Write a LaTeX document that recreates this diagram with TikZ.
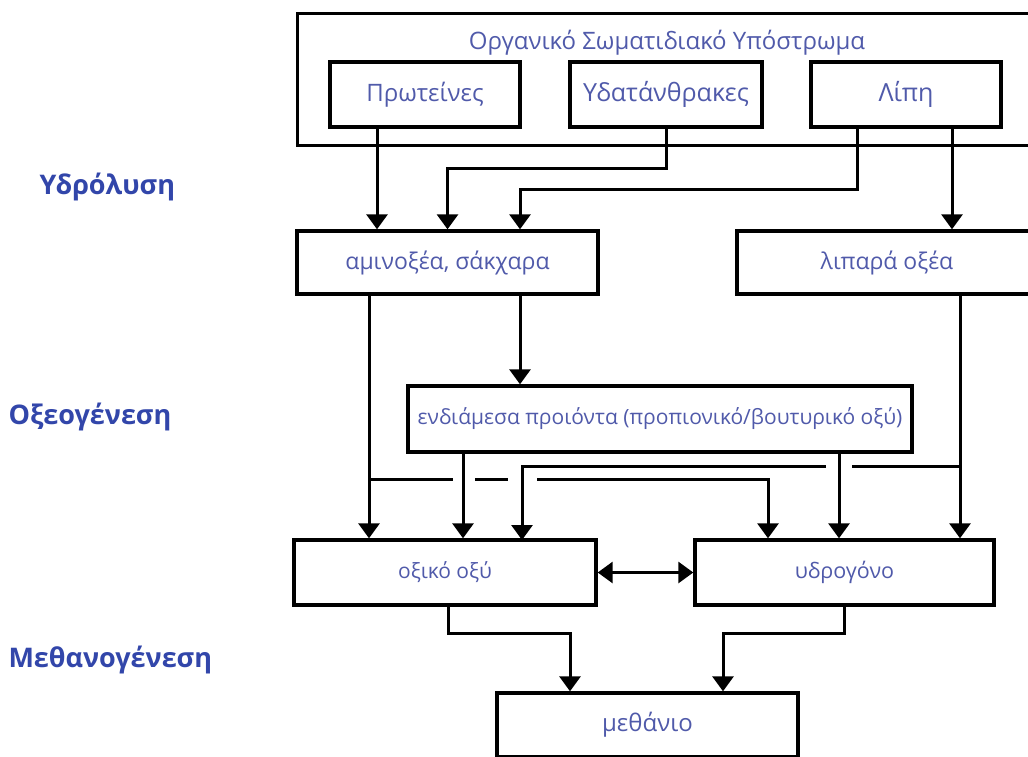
\documentclass[tikz,border=0pt]{standalone}
\usepackage{fontspec}
\setmainfont{Open Sans}
\usetikzlibrary{arrows.meta}
\definecolor{txtblue}{RGB}{80,90,170}
\definecolor{stageblue}{RGB}{50,70,170}

\begin{document}
\begin{tikzpicture}[x=1pt,y=-1pt,
    >={Triangle[width=21pt,length=15pt]},
    box/.style={draw, line width=3.4pt, inner sep=0pt, text=txtblue,
      font=\fontsize{#1}{#1}\selectfont},
    box/.default=23,
    stage/.style={anchor=west, text=stageblue,
      font=\fontsize{27}{30}\selectfont\bfseries},
    link/.style={line width=3pt},
    arr/.style={link, ->}]
    \useasboundingbox (0,0) rectangle (1028,756);
    \clip (0,0) rectangle (1028,756);

    % stages on the left
    \node[stage] (hydro) at (36,187) {Υδρόλυση};
    \node[stage] (acido) at (5,417) {Οξεογένεση};
    \node[stage] (methano) at (5,660) {Μεθανογένεση};

    % substrate
    \node[box, minimum width=760, minimum height=132, anchor=north west] (substrate) at (296,12) {};
    \node[text=txtblue, font=\fontsize{24}{24}\selectfont] (title) at (667,43) {Οργανικό Σωματιδιακό Υπόστρωμα};
    \node[box=24, minimum width=190, minimum height=65] (prot) at (425,94.5) {Πρωτείνες};
    \node[box=25, minimum width=192, minimum height=65] (ydat) at (666,94.5) {Υδατάνθρακες};
    \node[box=25, minimum width=190, minimum height=65] (lipi) at (906,94.5) {Λίπη};

    \node[box, minimum width=301, minimum height=63] (amino) at (447.5,262.5) {αμινοξέα, σάκχαρα};
    \node[box, minimum width=300, minimum height=63] (lipar) at (887,262.5) {λιπαρά οξέα};
    \node[box=21, minimum width=504, minimum height=66] (endiam) at (660,419) {ενδιάμεσα προιόντα (προπιονικό/βουτυρικό οξύ)};
    \node[box=21, minimum width=302, minimum height=65] (oxiko) at (445,572.5) {οξικό οξύ};
    \node[box=21.5, minimum width=299, minimum height=65] (ydro) at (844.5,572.5) {υδρογόνο};
    \node[box=24, minimum width=301, minimum height=64] (methane) at (647.5,725) {μεθάνιο};

    % hydrolysis
    \draw[arr] ([xshift=-48]prot.south) -- ([xshift=-48]prot.south |- amino.north);
    \draw[arr] (ydat.south) -- ++(0,40) -| (amino.north);
    \draw[arr] ([xshift=-49]lipi.south) -- ++(0,61) -| ([xshift=72.5]amino.north);
    \draw[arr] ([xshift=46]lipi.south) -- ([xshift=46]lipi.south |- lipar.north);

    % acidogenesis
    \draw[arr] ([xshift=-78.5]amino.south) -- ([xshift=-78.5]amino.south |- oxiko.north);
    \draw[arr] ([xshift=72.5]amino.south) -- ([xshift=72.5]amino.south |- endiam.north);
    \draw[arr] ([xshift=-197]endiam.south) -- ([xshift=-197]endiam.south |- oxiko.north);
    \draw[arr] ([xshift=179]endiam.south) -- ([xshift=179]endiam.south |- ydro.north);
    \draw[arr] ([xshift=73]lipar.south) -- ([xshift=73]lipar.south |- ydro.north);

    % crossing lines with gaps
    \coordinate (upA) at (960,466);
    \coordinate (upB) at (852,466);
    \coordinate (upC) at (826,466);
    \draw[link] (upA) -- (upB);
    \draw[arr] (upC) -| (522,540);
    \coordinate (loA) at (369,479);
    \coordinate (loB) at (453,479);
    \coordinate (loC) at (475,479);
    \coordinate (loD) at (508,479);
    \coordinate (loE) at (537,479);
    \draw[link] (loA) -- (loB);
    \draw[link] (loC) -- (loD);
    \draw[arr] (loE) -| ([xshift=-76.5]ydro.north);

    % methanogenesis
    \draw[link, <->] (oxiko.east) -- (ydro.west);
    \draw[arr] ([xshift=3]oxiko.south) -- ++(0,27) -| ([xshift=-77.5]methane.north);
    \draw[arr] (ydro.south) -- ++(0,27) -| ([xshift=75.5]methane.north);
\end{tikzpicture}
\end{document}
